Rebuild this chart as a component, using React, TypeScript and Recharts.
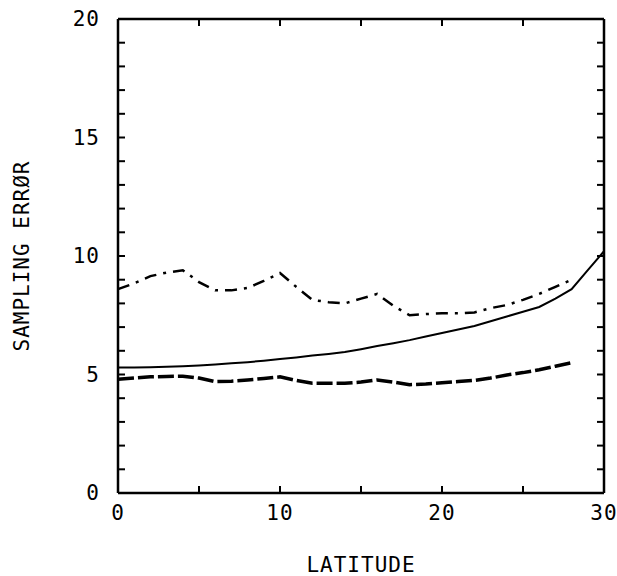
import { LineChart, Line, XAxis, YAxis } from 'recharts';

const latitudes = [
  0, 1, 2, 3, 4, 5, 6, 7, 8, 9, 10, 11, 12, 13, 14, 15,
  16, 17, 18, 19, 20, 21, 22, 23, 24, 25, 26, 27, 28, 29, 30,
];

// solid curve
const solidError = [
  5.3, 5.3, 5.31, 5.33, 5.35, 5.38, 5.42, 5.47, 5.52, 5.58, 5.65, 5.72, 5.8, 5.87, 5.95, 6.07,
  6.2, 6.32, 6.45, 6.6, 6.75, 6.9, 7.05, 7.25, 7.45, 7.65, 7.85, 8.2, 8.6, 9.4, 10.2,
];

// dash-dot curve (stops at 28)
const dashDotError = [
  8.6, 8.85, 9.15, 9.3, 9.4, 8.9, 8.55, 8.55, 8.65, 8.95, 9.28, 8.7, 8.15, 8.05, 8.0, 8.2,
  8.4, 7.9, 7.5, 7.55, 7.58, 7.58, 7.62, 7.8, 7.93, 8.15, 8.4, 8.7, 9.0, null, null,
];

// heavy dashed curve (stops at 28)
const dashedError = [
  4.8, 4.85, 4.9, 4.92, 4.93, 4.85, 4.7, 4.72, 4.77, 4.83, 4.9, 4.75, 4.63, 4.63, 4.63, 4.68,
  4.77, 4.68, 4.57, 4.6, 4.65, 4.7, 4.75, 4.85, 4.98, 5.08, 5.2, 5.35, 5.5, null, null,
];

const xTicks = [0, 5, 10, 15, 20, 25, 30];
const yTicks = [0, 1, 2, 3, 4, 5, 6, 7, 8, 9, 10, 11, 12, 13, 14, 15, 16, 17, 18, 19, 20];

const data = latitudes.map((lat, i) => ({
  lat,
  solid: solidError[i],
  dashDot: dashDotError[i],
  dashed: dashedError[i],
}));

const font = 'DejaVu Sans Mono';
const tickStyle = { fontFamily: font, fontSize: 21, fill: '#000', letterSpacing: 1 };
const axisLine = { stroke: '#000', strokeWidth: 2.5 };
const tickLine = { stroke: '#000', strokeWidth: 2 };
const blank = () => '';

export default function App() {
  return (
    <div style={{ position: 'absolute', left: 0, top: 0, background: '#fff' }}>
      <LineChart width={617} height={576} data={data} margin={{ top: 0, right: 0, left: 0, bottom: 0 }}>
        <XAxis
          dataKey="lat"
          type="number"
          domain={[0, 30]}
          ticks={xTicks}
          interval={0}
          height={83}
          axisLine={axisLine}
          tickLine={tickLine}
          tickSize={-7}
          tickMargin={19}
          tick={tickStyle}
          tickFormatter={(v) => (v % 10 === 0 ? String(v) : '')}
          label={{ value: 'LATITUDE', position: 'insideBottom', offset: 4, style: { ...tickStyle, textAnchor: 'middle' } }}
        />
        <XAxis
          xAxisId="top"
          orientation="top"
          dataKey="lat"
          type="number"
          domain={[0, 30]}
          ticks={xTicks}
          interval={0}
          height={19}
          axisLine={axisLine}
          tickLine={tickLine}
          tickSize={-7}
          tick={tickStyle}
          tickFormatter={blank}
        />
        <YAxis
          type="number"
          domain={[0, 20]}
          ticks={yTicks}
          interval={0}
          width={118}
          axisLine={axisLine}
          tickLine={tickLine}
          tickSize={-7}
          tickMargin={25}
          tick={tickStyle}
          tickFormatter={(v) => (v % 5 === 0 ? String(v) : '')}
          label={{ value: 'SAMPLING ERRØR', angle: -90, position: 'insideLeft', offset: 22, style: { ...tickStyle, textAnchor: 'middle' } }}
        />
        <YAxis
          yAxisId="right"
          orientation="right"
          type="number"
          domain={[0, 20]}
          ticks={yTicks}
          interval={0}
          width={13}
          axisLine={axisLine}
          tickLine={tickLine}
          tickSize={-7}
          tick={tickStyle}
          tickFormatter={blank}
        />
        {/* invisible series so the top and right frame axes get their scales */}
        <Line xAxisId="top" yAxisId="right" dataKey="solid" stroke="none" dot={false} isAnimationActive={false} />
        <Line dataKey="solid" stroke="#000" strokeWidth={2} dot={false} isAnimationActive={false} />
        <Line dataKey="dashDot" stroke="#000" strokeWidth={2.5} strokeDasharray="12 7 3 7" dot={false} isAnimationActive={false} />
        <Line dataKey="dashed" stroke="#000" strokeWidth={3.5} strokeDasharray="16 4" dot={false} isAnimationActive={false} />
      </LineChart>
    </div>
  );
}
